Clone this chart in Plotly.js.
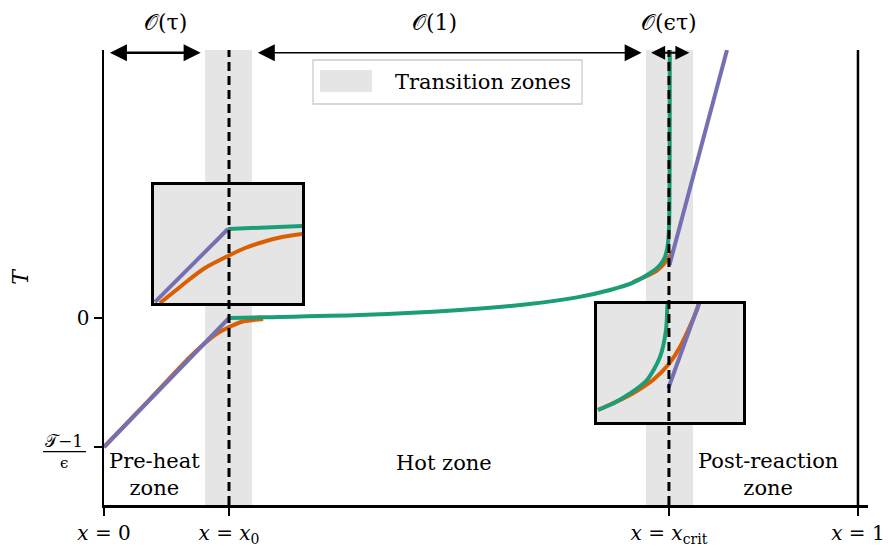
<!DOCTYPE html>
<html>
<head>
<meta charset="utf-8">
<script src="https://cdn.plot.ly/plotly-3.0.1.min.js"></script>
<style>html,body{margin:0;padding:0;background:#fff}#chart{width:892px;height:548px}</style>
</head>
<body>
<div id="chart"></div>
<script>
// ---------------- data ----------------
const x0 = 0.1658;
const xCrit = 0.7493;
const xTickVals = [0, x0, xCrit, 1];
const xTickText = ['<i>x</i> = 0', '<i>x</i> = <i>x</i><sub>0</sub>', '<i>x</i> = <i>x</i><sub>crit</sub>', '<i>x</i> = 1'];
const yTickVals = [0, -1];
const yTickText = ['0', ''];
const zoneLeft = [0.134, 0.7188];
const zoneRight = [0.1963, 0.7812];

// purple: outer (linear) solutions
const preheatX = [0, 0.1658];
const preheatT = [-1, 0];
const postX = [0.7500, 0.8263];
const postT = [0.411, 2.078];
// green: hot-zone solution
const hotX = [0.1658, 0.2069, 0.3395, 0.4721, 0.5610, 0.6273, 0.6711, 0.7016, 0.7241, 0.7374, 0.7440, 0.7473, 0.7491, 0.7499, 0.7503, 0.7504];
const hotT = [0.000, 0.005, 0.023, 0.062, 0.106, 0.160, 0.217, 0.274, 0.347, 0.411, 0.473, 0.550, 0.659, 0.837, 1.302, 2.078];
// orange: full solution (visible parts)
const fullX = [0, 0.061, 0.114, 0.134, 0.147, 0.166, 0.184, 0.211, null, 0.7016, 0.7135, 0.7241, 0.7334, 0.7414, 0.7467, 0.7507, 0.7546];
const fullT = [-1.0, -0.628, -0.302, -0.194, -0.132, -0.070, -0.027, -0.008, null, 0.279, 0.310, 0.337, 0.368, 0.411, 0.453, 0.484, 0.519];

// inset near x0 (local zoomed units)
const in1PreX = [-0.986, 0];
const in1PreT = [-0.986, 0];
const in1HotX = [0, 1.0];
const in1HotT = [0, 0.041];
const in1FullX = [-0.919, -0.716, -0.514, -0.311, 0, 0.230, 0.473, 0.703, 1.0];
const in1FullT = [-1.0, -0.838, -0.676, -0.527, -0.365, -0.257, -0.176, -0.115, -0.068];

// inset near xcrit (local zoomed units)
const in2PostX = [-0.023, 0.404];
const in2PostT = [-0.004, 1.178];
const in2HotX = [-0.986, -0.767, -0.548, -0.315, -0.137, -0.055, -0.037, -0.033];
const in2HotT = [-0.301, -0.205, -0.075, 0.110, 0.425, 0.795, 1.114, 1.205];
const in2FullX = [-0.986, -0.548, -0.233, -0.027, 0.137, 0.384, 0.397];
const in2FullT = [-0.301, -0.096, 0.110, 0.315, 0.562, 1.110, 1.178];

const zoneNames = ['Pre-heat<br>zone', 'Hot zone', 'Post-reaction<br>zone'];
const scaleLabels = ['\u{1D4AA}(\u03C4)', '\u{1D4AA}(1)', '\u{1D4AA}(\u03F5\u03C4)'];
const legendLabel = 'Transition zones';

// ---------------- styling ----------------
const GREEN = '#1b9e77', ORANGE = '#d95f02', PURPLE = '#7570b3', ZONE = '#e5e5e5';
const FONT = 'DejaVu Serif';
const LW = 4;

function line(x, y, color, xa, ya, name) {
  return {x: x, y: y, type: 'scatter', mode: 'lines', xaxis: xa, yaxis: ya, name: name,
    line: {color: color, width: LW, shape: 'spline', smoothing: 0.8}, hoverinfo: 'skip', showlegend: false, connectgaps: false};
}

const traces = [
  line(fullX, fullT, ORANGE, 'x', 'y', 'full'),
  line(hotX, hotT, GREEN, 'x', 'y', 'hot'),
  line(preheatX, preheatT, PURPLE, 'x', 'y', 'pre-heat'),
  line(postX, postT, PURPLE, 'x', 'y', 'post'),
  line(in1FullX, in1FullT, ORANGE, 'x2', 'y2', 'full'),
  line(in1HotX, in1HotT, GREEN, 'x2', 'y2', 'hot'),
  line(in1PreX, in1PreT, PURPLE, 'x2', 'y2', 'pre'),
  line(in2FullX, in2FullT, ORANGE, 'x3', 'y3', 'full'),
  line(in2HotX, in2HotT, GREEN, 'x3', 'y3', 'hot'),
  line(in2PostX, in2PostT, PURPLE, 'x3', 'y3', 'post')
];

const shapes = [];
for (let i = 0; i < zoneLeft.length; i++) {
  shapes.push({type: 'rect', xref: 'x', yref: 'paper', x0: zoneLeft[i], x1: zoneRight[i], y0: 0, y1: 1,
    fillcolor: ZONE, line: {width: 0}, layer: 'below'});
}
// inset backgrounds
shapes.push({type: 'rect', xref: 'x2 domain', yref: 'y2 domain', x0: 0, x1: 1, y0: 0, y1: 1, fillcolor: ZONE, line: {width: 0}, layer: 'below'});
shapes.push({type: 'rect', xref: 'x3 domain', yref: 'y3 domain', x0: 0, x1: 1, y0: 0, y1: 1, fillcolor: ZONE, line: {width: 0}, layer: 'below'});
// dashed markers at x0, xcrit
[x0, xCrit].forEach(v => shapes.push({type: 'line', xref: 'x', yref: 'paper', x0: v, x1: v, y0: 0, y1: 1,
  line: {color: 'black', width: 3, dash: '9px,5px'}, layer: 'above'}));
// boundary x = 1
shapes.push({type: 'line', xref: 'x', yref: 'paper', x0: 1, x1: 1, y0: 0, y1: 1, line: {color: 'black', width: 2.5}, layer: 'above'});
// fraction bar of y tick
shapes.push({type: 'line', xref: 'paper', yref: 'y', x0: -0.0798, x1: -0.0236, y0: -1.036, y1: -1.036, line: {color: 'black', width: 1.2}});
// legend box
shapes.push({type: 'rect', xref: 'paper', yref: 'paper', x0: 0.2736, x1: 0.6257, y0: 0.8813, y1: 0.978,
  fillcolor: 'rgba(255,255,255,0.85)', line: {color: '#cccccc', width: 1.3}, layer: 'above'});
shapes.push({type: 'rect', xref: 'paper', yref: 'paper', x0: 0.2827, x1: 0.3508, y0: 0.9077, y1: 0.956,
  fillcolor: ZONE, line: {width: 0}, layer: 'above'});

const annotations = [];
const arrowY = 0.994;
function arrow(a, b, w, size) {
  const sc = w * size;
  annotations.push({x: b, y: arrowY, xref: 'x', yref: 'paper', ax: a, ay: 0, axref: 'x', ayref: 'pixel', text: '',
    showarrow: true, arrowside: 'end+start', arrowhead: 2, startarrowhead: 2, arrowsize: size, startarrowsize: size,
    arrowwidth: w, arrowcolor: 'black', standoff: 1.3 * sc, startstandoff: 1.3 * sc});
}
arrow(0, zoneLeft[0], 2.5, 1.36);
arrow(zoneRight[0], zoneLeft[1], 1.3, 2.6);
arrow(zoneLeft[1], zoneRight[1], 2, 1.4);

const scaleX = [0.081, 0.4377, 0.7493];
scaleLabels.forEach((t, i) => annotations.push({x: scaleX[i], y: 1.0615, xref: 'x', yref: 'paper', text: t, showarrow: false,
  font: {family: FONT, size: 22, color: 'black'}, xanchor: 'center', yanchor: 'middle'}));

const zoneX = [0.0676, 0.4509, 0.8806];
const zoneY = [-1.217, -1.124, -1.217];
zoneNames.forEach((t, i) => annotations.push({x: zoneX[i], y: zoneY[i], xref: 'x', yref: 'y', text: t, showarrow: false,
  font: {family: FONT, size: 21, color: 'black'}, xanchor: 'center', yanchor: 'middle'}));

// fraction tick label (T-1)/eps
annotations.push({x: -0.0524, y: -0.953, xref: 'paper', yref: 'y', text: '\u{1D4AF}\u22121', showarrow: false,
  font: {family: FONT, size: 17, color: 'black'}, xanchor: 'center', yanchor: 'middle'});
annotations.push({x: -0.0524, y: -1.124, xref: 'paper', yref: 'y', text: '\u03F5', showarrow: false,
  font: {family: FONT, size: 15, color: 'black'}, xanchor: 'center', yanchor: 'middle'});
// legend text
annotations.push({x: 0.3783, y: 0.9297, xref: 'paper', yref: 'paper', text: legendLabel, showarrow: false,
  font: {family: FONT, size: 21, color: 'black'}, xanchor: 'left', yanchor: 'middle'});

const insetAxis = (dom, rng, anchor) => ({domain: dom, range: rng, anchor: anchor, showline: true, mirror: true,
  linecolor: 'black', linewidth: 3, showgrid: false, zeroline: false, showticklabels: false, ticks: '', fixedrange: true});

const layout = {
  width: 892, height: 548,
  margin: {l: 104, r: 24, t: 50, b: 43},
  paper_bgcolor: 'white', plot_bgcolor: 'rgba(0,0,0,0)',
  font: {family: FONT, size: 20, color: 'black'},
  showlegend: false,
  xaxis: {range: [0, 1.0133], tickvals: xTickVals, ticktext: xTickText, ticks: 'outside', ticklen: 8, tickwidth: 2.5,
    tickcolor: 'black', showline: true, linewidth: 2.5, linecolor: 'black', showgrid: false, zeroline: false,
    tickfont: {family: FONT, size: 20}, fixedrange: true},
  yaxis: {range: [-1.4496, 2.0775], tickvals: yTickVals, ticktext: yTickText, ticks: 'outside', ticklen: 8, tickwidth: 2.5,
    tickcolor: 'black', showline: true, linewidth: 2.5, linecolor: 'black', showgrid: false, zeroline: false,
    tickfont: {family: FONT, size: 20}, fixedrange: true,
    title: {text: '<i>T</i>', font: {family: FONT, size: 22}, standoff: 42}},
  xaxis2: insetAxis([0.0654, 0.2592], [-1.0, 1.0], 'y2'),
  yaxis2: insetAxis([0.444, 0.7033], [-1.0, 0.5946], 'x2'),
  xaxis3: insetAxis([0.6453, 0.8364], [-1.0, 1.0], 'y3'),
  yaxis3: insetAxis([0.1824, 0.4418], [-0.466, 1.151], 'x3'),
  shapes: shapes,
  annotations: annotations
};

Plotly.newPlot('chart', traces, layout, {displayModeBar: false, staticPlot: true});
</script>
</body>
</html>
